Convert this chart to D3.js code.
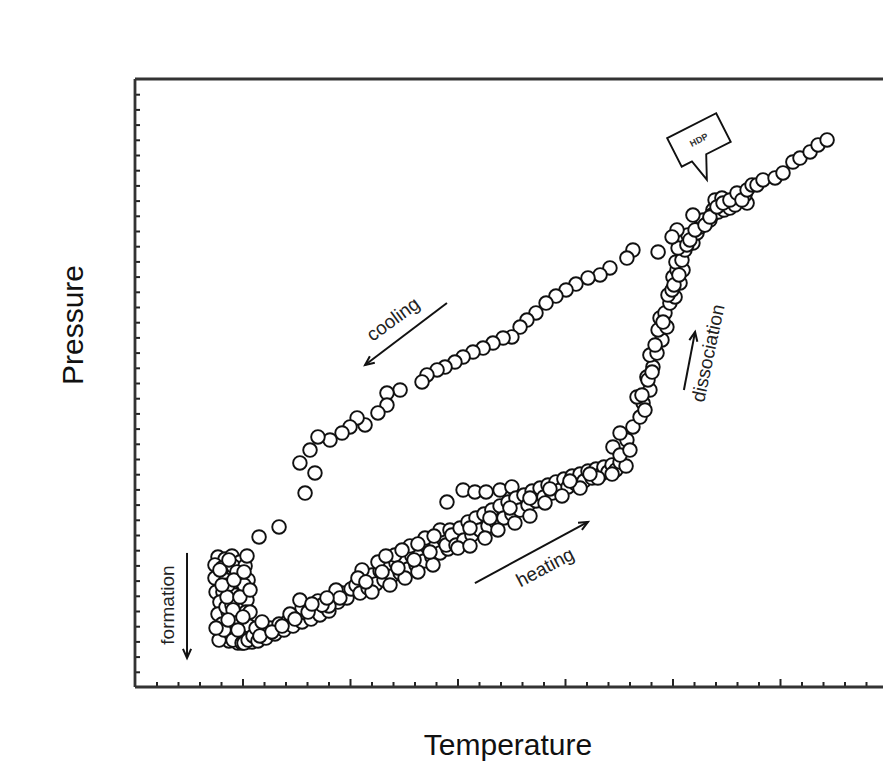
<!DOCTYPE html>
<html>
<head>
<meta charset="utf-8">
<script src="https://cdn.jsdelivr.net/npm/d3@7"></script>
<style>
  html, body { margin: 0; padding: 0; background: #ffffff; }
  svg { display: block; }
</style>
</head>
<body>
<svg id="chart" width="883" height="762"></svg>
<script>
// Hydrate cycle: pressure vs temperature, in axis-tick units
const formation = [
  [3.86,8.55],[4.19,8.42],[4.51,8.62],[4.88,8.22],[3.72,8.03],[4.05,7.83],[4.56,7.96],[5.12,7.96],
  [3.72,7.17],[4.23,7.04],[4.79,7.17],[5.26,7.04],[3.77,6.25],[4.09,6.25],[4.51,6.51],[4.98,6.25],
  [3.95,5.59],[4.42,5.72],[4.79,5.46],[5.21,5.72],[3.86,4.80],[4.33,4.93],[4.70,4.67],[5.16,4.93],
  [4.05,4.14],[4.47,4.01],[4.88,4.28],[5.30,4.01],[4.19,3.36],[4.60,3.49],[5.02,3.22],[4.37,3.03],
  [4.79,2.89],[5.21,2.96],[3.91,3.09],[5.35,4.93],[4.23,5.26],[4.65,6.05],[4.33,6.71],[4.74,7.57],
  [5.07,6.71],[4.51,5.39],[4.70,4.41],[4.14,3.75],[4.56,3.09],[4.98,2.89],[5.44,2.96],[3.77,3.88],
  [4.28,5.92],[4.88,5.92],[4.56,5.07],[5.02,4.61],[4.33,4.41],[4.79,3.75],[4.05,6.71],[4.60,7.04],
  [3.95,7.70],[5.07,7.57],[5.35,6.38],[4.37,8.36]
];

const heating = [
  // slow rise
  [5.07,2.89],[5.26,3.09],[5.49,3.36],[5.72,3.03],[5.91,3.62],[6.09,3.22],[6.28,3.88],[6.51,3.49],
  [6.70,4.14],[6.93,3.75],[7.12,4.34],[7.35,4.01],[7.53,4.61],[7.77,4.28],[7.95,4.87],[8.19,4.47],
  [8.37,5.07],[8.60,4.74],[8.79,5.33],[9.02,5.00],[9.21,5.92],[9.44,5.59],[9.63,6.18],[9.86,5.86],
  [10.05,6.45],[7.77,5.20],[8.51,5.66],[9.35,6.38],[5.63,3.88],[7.21,4.80],[7.67,5.72],[5.91,4.28],
  [9.02,5.33],[5.81,3.36],[6.37,3.62],[6.84,4.01],[7.44,4.47],[8.05,4.93],[8.70,5.39],[9.53,5.86],
  [8.93,5.86],[8.23,5.46],
  [10.28,6.71],[10.47,6.18],[10.65,7.04],[10.84,6.51],[11.02,7.37],[11.21,6.78],[11.40,7.63],[11.58,7.04],
  [11.77,7.89],[11.95,7.30],[12.14,8.16],[12.33,7.50],[12.51,8.36],[12.70,7.76],[12.88,8.62],[13.07,8.03],
  [13.26,8.88],[13.44,8.29],[13.63,9.14],[13.81,8.55],[14.00,9.41],[14.19,8.82],[14.37,9.67],[14.56,9.08],
  [10.56,7.70],[11.30,8.22],[12.09,8.68],[12.79,9.28],[13.49,9.80],[14.19,10.33],[11.02,6.25],[11.86,6.71],
  [12.56,7.17],[13.16,7.57],[13.86,8.03],[10.37,7.17],[10.74,6.91],[11.49,7.57],[12.23,7.83],[12.98,8.36],
  [13.72,8.88],[14.47,9.34],[11.67,8.62],[12.42,9.01],[13.16,9.41],[13.91,9.93],[14.65,10.33],
  [14.51,12.17],[15.26,12.96],[15.81,12.83],[16.33,12.83],[16.98,12.96],[17.53,13.16],
  [14.74,10.00],[14.93,9.34],[15.12,10.46],[15.30,9.67],[15.49,10.86],[15.67,10.00],[15.86,11.12],[16.05,10.33],
  [16.23,11.38],[16.42,10.59],[16.60,11.64],[16.79,10.86],[16.98,11.91],[17.16,11.12],[17.35,12.17],[17.53,11.38],
  [17.72,12.43],[17.91,11.64],[18.09,12.63],[18.28,11.97],[18.47,12.89],[18.65,12.24],[18.84,13.09],[19.02,12.50],
  [19.21,13.29],[19.40,12.76],[19.58,13.49],[19.77,12.96],[19.95,13.68],[20.14,13.16],[20.33,13.88],[20.51,13.36],
  [20.70,14.01],[20.88,13.55],[21.07,14.21],[21.26,13.75],[21.44,14.34],[21.63,13.95],[21.81,14.47],[22.00,14.14],
  [22.19,14.61],[22.37,14.28],[22.56,14.80],[15.02,9.14],[15.58,9.28],[16.28,9.80],[16.88,10.33],[17.67,10.79],
  [18.37,11.25],[19.07,12.11],[19.86,12.57],[20.70,13.09],[21.53,13.75],[22.19,14.01],[22.84,14.54],
  [15.58,10.46],[16.51,11.12],[17.44,11.78],[18.37,12.43],[19.30,13.03],[20.23,13.55],[21.16,14.01],
  // dissociation
  [22.23,15.79],[22.56,15.26],[22.88,16.25],[22.56,16.71],[23.16,17.11],[23.02,15.59],[23.49,17.76],[23.63,18.68],
  [23.35,19.08],[23.95,19.54],[23.72,18.22],[23.81,20.39],[24.09,21.05],[23.95,21.84],[24.28,21.97],[24.51,22.83],
  [24.33,23.49],[24.74,23.68],[24.42,24.28],[24.65,24.61],[24.88,25.26],[25.12,25.66],[24.79,25.79],[24.98,26.12],
  [25.35,26.58],[25.02,26.97],[25.21,27.43],[25.49,27.43],[25.16,27.96],[25.44,28.09],[25.58,28.75],[25.26,28.88],
  [25.95,29.21],[25.72,29.74],[26.14,29.87],[26.28,30.26],[26.42,30.72],[26.74,30.72],[26.88,31.38],[27.21,31.58],
  [27.53,31.84],[28.00,32.04],[28.47,31.84],[24.19,22.50],[24.56,24.01],[23.86,20.20],[23.58,19.21],[24.05,20.72],
  [25.07,26.45],[25.30,27.11],[25.67,29.08],[25.81,29.41],[26.05,30.07],
  // HDP region
  [26.51,30.39],[26.84,31.05],[27.12,31.25],[27.40,31.38],[27.67,31.51],[27.91,31.71],[28.14,32.24],[28.37,32.37],
  [26.98,32.04],[27.30,32.17],[26.74,30.92],[27.07,31.58],[27.35,31.84],[27.67,32.04],[28.00,32.50],[28.23,32.04],
  [28.47,32.70],[28.70,33.03],[28.93,33.03],[29.21,33.36],[29.77,33.49],[30.14,33.82],[30.60,34.54],[30.93,34.80],
  [31.40,35.20],[31.77,35.66],[32.19,35.99]
];

const cooling = [
  [25.95,31.05],[25.21,30.07],[24.98,29.61],[24.33,28.62],[23.16,28.75],[22.88,28.22],[22.09,27.57],[21.63,27.11],
  [21.07,26.91],[20.51,26.51],[20.05,26.12],[19.58,25.72],[19.12,25.26],[18.65,24.61],[18.23,24.14],[17.91,23.68],
  [17.53,23.03],[17.12,22.96],[16.65,22.63],[16.19,22.30],[15.72,22.04],[15.26,21.71],[14.88,21.38],[14.42,21.05],
  [14.05,20.86],[13.58,20.53],[13.35,20.07],[12.33,19.54],[11.72,19.34],[11.72,18.55],[11.30,18.03],[10.70,17.24],
  [10.33,17.70],[10.00,17.11],[9.63,16.71],[9.07,16.25],[8.51,16.45],[8.14,15.59],[7.67,14.74],[8.37,14.08],
  [7.91,12.76],[6.70,10.53],[5.77,9.87],[5.21,8.62]
];

// Unlabelled tick positions
const xTicks = d3.range(1, 35);
const yTicks = d3.range(1, 40);

// Process arrows and their labels
const arrows = [
  { from: [14.51, 25.26], to: [10.70, 21.18] },
  { from: [15.81, 6.84],  to: [21.07, 10.86] },
  { from: [25.53, 19.54], to: [26.05, 23.36] },
  { from: [2.42, 8.82],   to: [2.42, 1.91] }
];
const arrowLabels = [
  { text: "cooling",      at: [12.00, 24.21], angle: -36 },
  { text: "heating",      at: [19.07, 7.89],  angle: -28 },
  { text: "dissociation", at: [26.65, 21.97], angle: -78 },
  { text: "formation",    at: [1.53, 5.39],   angle: -90 }
];
const callout = { text: "HDP", at: [26.23, 35.99], angle: -27 };

const svg = d3.select("#chart");
const x = d3.scaleLinear().domain([0, 35]).range([135, 887.5]);
const y = d3.scaleLinear().domain([0, 40]).range([687, 79]);

// Axis titles
svg.append("text")
  .attr("transform", `translate(83,325) rotate(-90)`)
  .attr("text-anchor", "middle")
  .attr("font-family", "Liberation Sans, Arial, sans-serif")
  .attr("font-size", 30)
  .attr("fill", "#111")
  .text("Pressure");
svg.append("text")
  .attr("x", 508).attr("y", 755)
  .attr("text-anchor", "middle")
  .attr("font-family", "Liberation Sans, Arial, sans-serif")
  .attr("font-size", 30)
  .attr("fill", "#111")
  .text("Temperature");

// Inward ticks
const gx = svg.append("g")
  .attr("transform", `translate(0,${y(0)})`)
  .call(d3.axisBottom(x).tickValues(xTicks).tickSize(-5).tickFormat(""));
gx.select(".domain").remove();
gx.selectAll(".tick line")
  .attr("y2", d => d % 5 === 0 ? -8 : -5)
  .attr("stroke", "#222").attr("stroke-width", 2);

const gy = svg.append("g")
  .attr("transform", `translate(${x(0)},0)`)
  .call(d3.axisLeft(y).tickValues(yTicks).tickSize(-5).tickFormat(""));
gy.select(".domain").remove();
gy.selectAll(".tick line").attr("stroke", "#222").attr("stroke-width", 2);

// Frame: left, top and bottom edges
const frame = svg.append("g").attr("stroke", "#333").attr("stroke-width", 2.8).attr("fill", "none");
frame.append("line").attr("x1", x(0)).attr("x2", x(0)).attr("y1", y(40)).attr("y2", y(0));
frame.append("line").attr("x1", x(0)).attr("x2", x(35)).attr("y1", y(40)).attr("y2", y(40));
frame.append("line").attr("x1", x(0)).attr("x2", x(35)).attr("y1", y(0)).attr("y2", y(0));

// Measurements
const marks = svg.append("g");
[formation, heating, cooling].forEach(series => {
  marks.append("g").selectAll("circle")
    .data(series)
    .join("circle")
    .attr("cx", d => x(d[0]))
    .attr("cy", d => y(d[1]))
    .attr("r", 6.8)
    .attr("fill", "#fff")
    .attr("stroke", "#111")
    .attr("stroke-width", 1.9);
});

// Arrows with open chevron heads
const ag = svg.append("g").attr("stroke", "#111").attr("stroke-width", 2).attr("fill", "none");
arrows.forEach(a => {
  const x1 = x(a.from[0]), y1 = y(a.from[1]), x2 = x(a.to[0]), y2 = y(a.to[1]);
  const ang = Math.atan2(y2 - y1, x2 - x1);
  const L = 10, spread = 0.42;
  ag.append("line").attr("x1", x1).attr("y1", y1).attr("x2", x2).attr("y2", y2);
  ag.append("path").attr("d", d3.line()([
    [x2 - L * Math.cos(ang - spread), y2 - L * Math.sin(ang - spread)],
    [x2, y2],
    [x2 - L * Math.cos(ang + spread), y2 - L * Math.sin(ang + spread)]
  ]));
});

svg.append("g").selectAll("text")
  .data(arrowLabels)
  .join("text")
  .attr("transform", d => `translate(${x(d.at[0])},${y(d.at[1])}) rotate(${d.angle})`)
  .attr("text-anchor", "middle")
  .attr("dominant-baseline", "central")
  .attr("font-family", "Liberation Sans, Arial, sans-serif")
  .attr("font-size", 19)
  .attr("fill", "#222")
  .text(d => d.text);

// HDP speech bubble
const cg = svg.append("g")
  .attr("transform", `translate(${x(callout.at[0])},${y(callout.at[1])}) rotate(${callout.angle})`);
cg.append("path")
  .attr("d", "M-27.5,-16 L27.5,-16 L27.5,16 L0,16 L-11,39 L-16,16 L-27.5,16 Z")
  .attr("fill", "#fff").attr("stroke", "#111").attr("stroke-width", 1.9)
  .attr("stroke-linejoin", "miter");
cg.append("text")
  .attr("text-anchor", "middle")
  .attr("dominant-baseline", "central")
  .attr("font-family", "Liberation Sans, Arial, sans-serif")
  .attr("font-weight", "bold")
  .attr("font-size", 9)
  .attr("fill", "#333")
  .text(callout.text);
</script>
</body>
</html>
